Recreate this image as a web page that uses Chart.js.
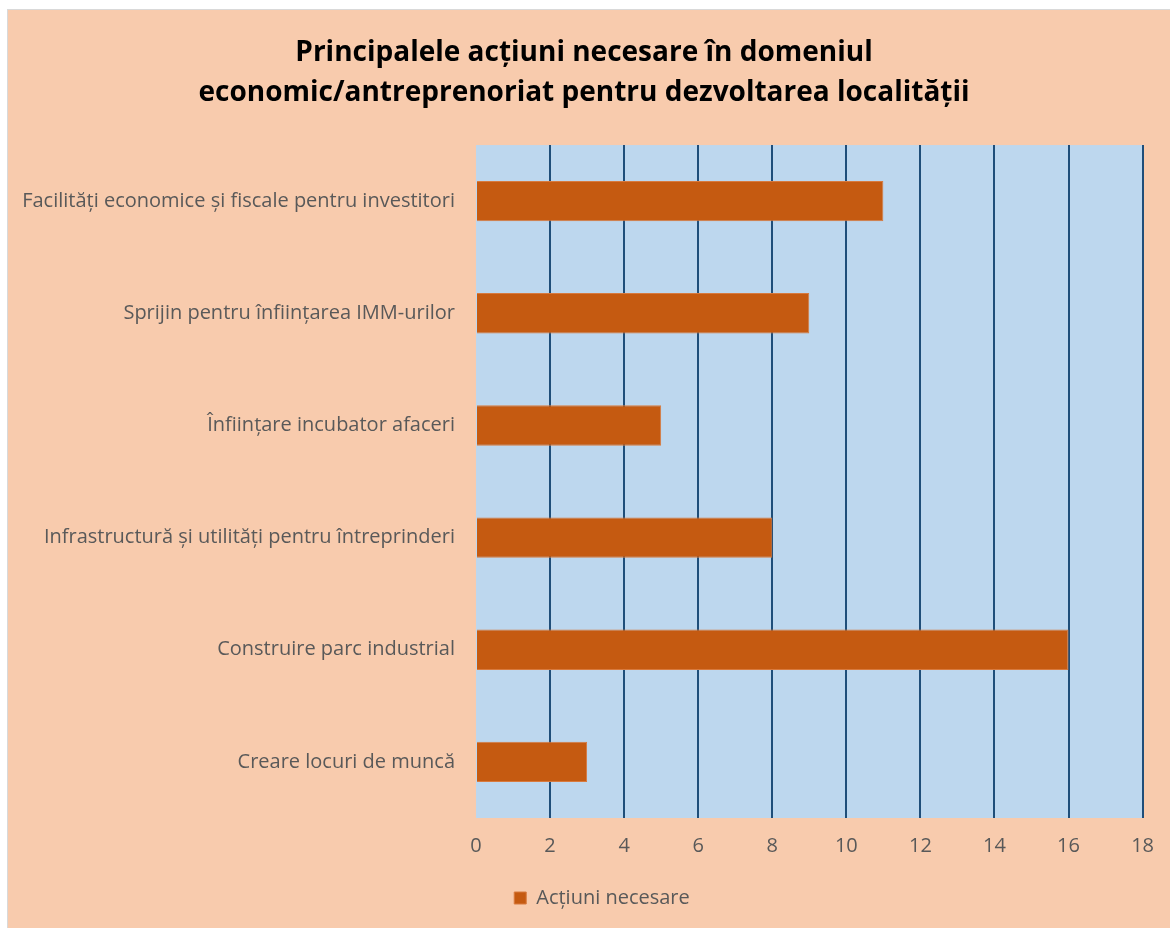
<!DOCTYPE html>
<html>
<head>
<meta charset="utf-8">
<script src="https://cdn.jsdelivr.net/npm/chart.js@4"></script>
<style>
  body { margin: 0; background: #fff; }
  #wrap {
    position: absolute; left: 7px; top: 9px;
    width: 1162px; height: 918px;
    border-left: 1px solid #d9d9d9; border-top: 1px solid #d9d9d9;
  }
</style>
</head>
<body>
<div id="wrap"><canvas id="chart" width="1162" height="918"></canvas></div>
<script>
const categories = [
    "Facilități economice și fiscale pentru investitori",
    "Sprijin pentru înființarea IMM-urilor",
    "Înființare incubator afaceri",
    "Infrastructură și utilități pentru întreprinderi",
    "Construire parc industrial",
    "Creare locuri de muncă"
];
const actiuni = [11, 9, 5, 8, 16, 3];
const seriesName = "Acțiuni necesare";
const titleLines = [
    "Principalele acțiuni necesare în domeniul",
    "economic/antreprenoriat pentru dezvoltarea localității"
];

const FONT = "'Open Sans', 'Noto Sans', sans-serif";
const PAD_LEFT = 10;

// peach canvas + light blue plot area
const backgrounds = {
    id: "backgrounds",
    beforeDraw(c) {
        const { ctx, chartArea: a } = c;
        ctx.save();
        ctx.fillStyle = "#F8CBAD";
        ctx.fillRect(0, 0, c.width, c.height);
        ctx.fillStyle = "#BDD7EE";
        ctx.fillRect(a.left, a.top, a.right - a.left, a.bottom - a.top);
        ctx.restore();
    }
};

// legend sits a bit right of centre in the original
const nudgeLegend = {
    id: "nudgeLegend",
    afterLayout(c) {
        c.legend.left += 18;
        c.legend.right += 18;
    }
};

const ctx = document.getElementById("chart").getContext("2d");
new Chart(ctx, {
    type: "bar",
    data: {
        labels: categories,
        datasets: [{
            label: seriesName,
            data: actiuni,
            backgroundColor: "#C55A11",
            borderColor: "#D87A3E",
            borderWidth: 1,
            barPercentage: 0.36,
            categoryPercentage: 1
        }]
    },
    options: {
        indexAxis: "y",
        responsive: false,
        animation: false,
        layout: { padding: { left: PAD_LEFT, right: 20, top: 0, bottom: 10 } },
        scales: {
            x: {
                min: 0, max: 18,
                ticks: { stepSize: 2, color: "#595959", font: { family: FONT, size: 20 }, padding: 16 },
                grid: {
                    color: c => c.index === 0 ? "rgba(0,0,0,0)" : "#1F4E79",
                    lineWidth: 2,
                    drawTicks: false
                },
                border: { display: false },
                afterFit: s => { s.height = 60; }
            },
            y: {
                ticks: { color: "#595959", font: { family: FONT, size: 20 }, padding: 13 },
                grid: { display: false },
                border: { display: false },
                afterFit: s => { s.width = 468 - PAD_LEFT; }
            }
        },
        plugins: {
            title: {
                display: true,
                text: titleLines,
                color: "#000",
                font: { family: FONT, size: 28, weight: "bold", lineHeight: 1.43 },
                padding: { top: 23, bottom: 32 }
            },
            legend: {
                position: "bottom",
                labels: {
                    color: "#595959",
                    font: { family: FONT, size: 20 },
                    boxWidth: 12, boxHeight: 12,
                    padding: 10
                }
            },
            tooltip: { enabled: false }
        }
    },
    plugins: [backgrounds, nudgeLegend]
});
</script>
</body>
</html>
